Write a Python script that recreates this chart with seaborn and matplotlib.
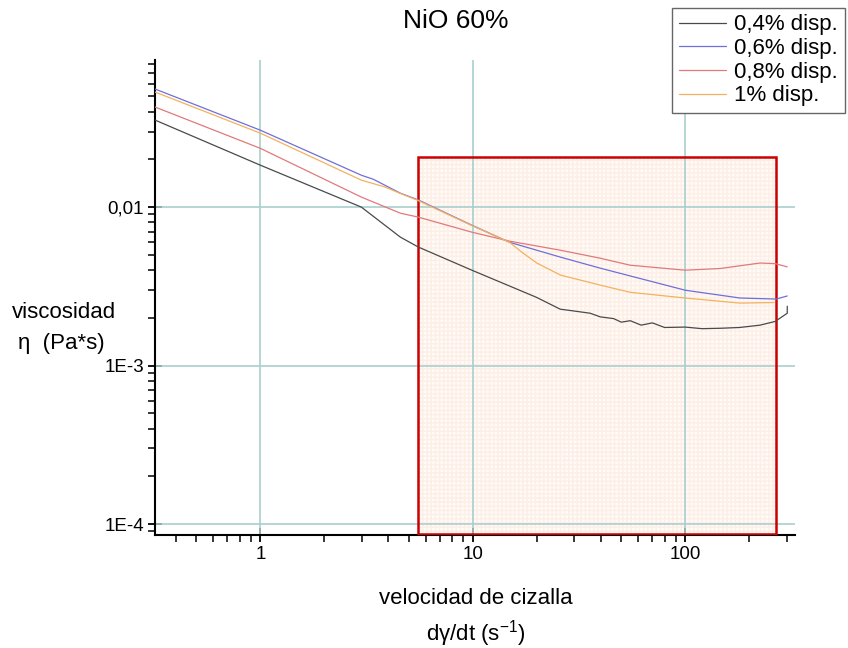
import numpy as np
import pandas as pd
import matplotlib
matplotlib.use("Agg")
import matplotlib.pyplot as plt
import seaborn as sns
from matplotlib.patches import Rectangle
from matplotlib.ticker import FixedLocator, FixedFormatter, LogLocator, NullFormatter

sns.set_theme(style="white")
plt.rcParams['font.family'] = ['Liberation Sans', 'DejaVu Sans']
plt.rcParams['text.color'] = 'black'

# shear rate (1/s) and viscosity (Pa*s)
x_04 = [0.32, 1.0, 2.99, 4.56, 5.54, 9.9, 19.9, 25.8, 30.0, 35.7, 39.8, 46.0, 50.0, 55.1, 62.0,
        70.0, 80.0, 100.0, 120.0, 146.0, 180.0, 225.0, 265.0, 302.0, 302.0]
y_04 = [0.0354, 0.0184, 0.0100, 0.00647, 0.0056, 0.0040, 0.0027, 0.00227, 0.00221, 0.00214, 0.00203,
        0.00198, 0.00188, 0.00192, 0.00180, 0.00186, 0.00174, 0.00175, 0.00171, 0.00172, 0.00174,
        0.00180, 0.00190, 0.00214, 0.00237]

x_06 = [0.32, 1.0, 2.99, 3.4, 4.56, 5.54, 9.9, 14.9, 25.8, 39.8, 100.0, 181.0, 268.0, 302.0]
y_06 = [0.0556, 0.0306, 0.0159, 0.0150, 0.01225, 0.0111, 0.00769, 0.0060, 0.00484, 0.00412,
        0.00299, 0.00267, 0.00263, 0.00275]

x_08 = [0.32, 1.0, 2.99, 4.56, 5.54, 9.9, 14.9, 25.8, 39.8, 55.1, 100.0, 146.0, 225.0, 265.0, 302.0]
y_08 = [0.0428, 0.0235, 0.01157, 0.00916, 0.00865, 0.00695, 0.0061, 0.00535, 0.00476, 0.0043,
        0.0040, 0.0041, 0.00444, 0.0044, 0.0042]

x_1 = [0.32, 1.0, 2.99, 3.86, 4.56, 5.54, 9.9, 14.9, 17.0, 20.0, 25.8, 39.8, 55.1, 100.0, 181.0, 262.0]
y_1 = [0.0532, 0.0293, 0.0148, 0.0134, 0.0122, 0.0110, 0.00765, 0.0060, 0.0052, 0.00444, 0.00373,
       0.00322, 0.0029, 0.00267, 0.00248, 0.0025]

labels = ["0,4% disp.", "0,6% disp.", "0,8% disp.", "1% disp."]
colors = ["#4a4a4a", "#6f6fd8", "#e07a7a", "#f2b25e"]

frames = []
for lab, xs, ys in zip(labels, [x_04, x_06, x_08, x_1], [y_04, y_06, y_08, y_1]):
    frames.append(pd.DataFrame({"rate": xs, "visc": ys, "serie": lab}))
df = pd.concat(frames, ignore_index=True)

fig = plt.figure(figsize=(8.48, 6.48), dpi=100)
ax = fig.add_axes([0.183, 0.174, 0.755, 0.733])
ax.set_xscale("log")
ax.set_yscale("log")
ax.set_xlim(0.32, 330)
ax.set_ylim(8.5e-5, 0.0845)

# highlighted window
ax.add_patch(Rectangle((5.54, 8.6e-5), 268 - 5.54, 0.0207 - 8.6e-5, facecolor="#fffbf8",
                       edgecolor="#fdeee6", hatch="++++", linewidth=0, zorder=0))
ax.add_patch(Rectangle((5.54, 8.6e-5), 268 - 5.54, 0.0207 - 8.6e-5, facecolor="none",
                       edgecolor="#cc0000", linewidth=1.8, zorder=3))

for v in [1, 10, 100]:
    ax.axvline(v, color="#a9cfcf", lw=1.2, zorder=1)
for v in [1e-4, 1e-3, 1e-2]:
    ax.axhline(v, color="#a9cfcf", lw=1.2, zorder=1)

sns.lineplot(data=df, x="rate", y="visc", hue="serie", palette=colors, sort=False,
             estimator=None, lw=0.9, ax=ax, legend=False, zorder=4)

ax.xaxis.set_major_locator(FixedLocator([1, 10, 100]))
ax.xaxis.set_major_formatter(FixedFormatter(["1", "10", "100"]))
ax.xaxis.set_minor_locator(LogLocator(base=10, subs=np.arange(2, 10)))
ax.xaxis.set_minor_formatter(NullFormatter())
ax.yaxis.set_major_locator(FixedLocator([1e-4, 1e-3, 1e-2]))
ax.yaxis.set_major_formatter(FixedFormatter(["1E-4", "1E-3", "0,01"]))
ax.yaxis.set_minor_locator(LogLocator(base=10, subs=np.arange(2, 10)))
ax.yaxis.set_minor_formatter(NullFormatter())
ax.tick_params(which="major", direction="inout", length=10, width=1.3, color="black",
               labelsize=13.5, labelcolor="black", bottom=True, left=True, pad=3)
ax.tick_params(which="minor", direction="out", length=5, width=1.1, color="black",
               bottom=True, left=True)

for s in ["top", "right"]:
    ax.spines[s].set_visible(False)
for s in ["left", "bottom"]:
    ax.spines[s].set_color("black")
    ax.spines[s].set_linewidth(1.5)
ax.set_xlabel("")
ax.set_ylabel("")

fig.text(0.537, 0.968, "NiO 60%", ha="center", va="center", fontsize=19)
fig.text(0.561, 0.077, "velocidad de cizalla", ha="center", va="center", fontsize=16)
fig.text(0.561, 0.023, "d\u03b3/dt (s$^{\\mathregular{-1}}$)", ha="center", va="center", fontsize=16)
fig.text(0.014, 0.518, "viscosidad", ha="left", va="center", fontsize=16)
fig.text(0.021, 0.470, "\u03b7  (Pa*s)", ha="left", va="center", fontsize=16)

handles = [plt.Line2D([], [], color=c, lw=0.9) for c in colors]
fig.legend(handles, labels, loc="upper left", bbox_to_anchor=(0.7925, 0.988), fontsize=16,
           frameon=True, fancybox=False, edgecolor="#666666", framealpha=1,
           handlelength=2.15, handletextpad=0.36, borderpad=0.3, borderaxespad=0,
           labelspacing=0.12)

fig.savefig("out.png", dpi=100)
